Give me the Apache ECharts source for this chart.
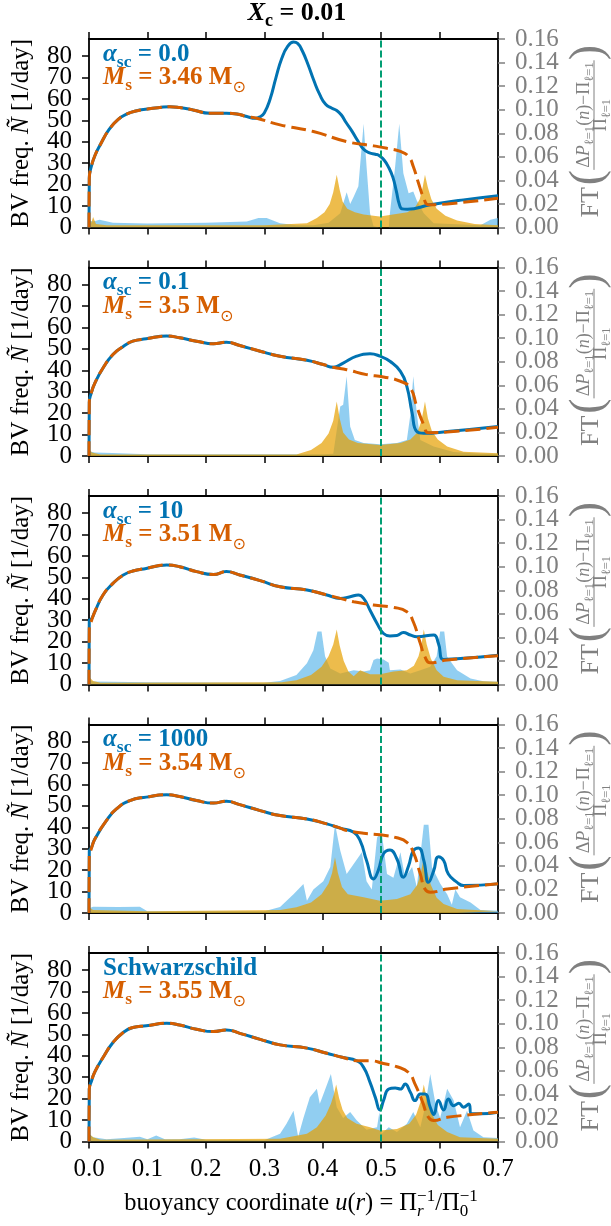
<!DOCTYPE html>
<html><head><meta charset="utf-8">
<script src="https://cdn.jsdelivr.net/npm/echarts@6/dist/echarts.min.js"></script>
<style>html,body{margin:0;padding:0;background:#fff}#c{width:611px;height:1226px}</style>
</head><body><div id="c"></div>
<script>
// ---------------- data ----------------
const xTicks = [0, 0.1, 0.2, 0.3, 0.4, 0.5, 0.6, 0.7];
const leftTicks = [0, 10, 20, 30, 40, 50, 60, 70, 80];
const leftLabelsA = [0, 20, 40, 60, 80];
const leftLabelsB = [10, 30, 50, 70];
const rightTicks = [0, 0.02, 0.04, 0.06, 0.08, 0.10, 0.12, 0.14, 0.16];
const rightLabelsA = [0, 0.04, 0.08, 0.12, 0.16];
const rightLabelsB = [0.02, 0.06, 0.10, 0.14];
const panelLabels = ['0.0', '0.1', '10', '1000', 'Schwarzschild'];
const panelMasses = ['3.46', '3.5', '3.51', '3.54', '3.55'];
const convBoundary = 0.5;

// BV frequency, blue solid (model)
const p1N = [[0,0],[0.0005,23],[0.004,28.5],[0.01,33.5],[0.02,39],[0.035,46],[0.05,50.5],[0.065,53],[0.08,54.4],[0.1,55.3],[0.121,56],[0.138,56.4],[0.155,56],[0.178,54.9],[0.207,53.3],[0.235,53.3],[0.253,53],[0.27,51.8],[0.285,51],[0.292,51.6],[0.3,53.5],[0.31,60],[0.32,70],[0.33,79],[0.34,84.5],[0.35,86.6],[0.357,86],[0.365,82.5],[0.375,76],[0.385,68.5],[0.395,62],[0.405,57.5],[0.415,55.8],[0.424,54.6],[0.432,52.5],[0.44,49],[0.45,45],[0.46,40.5],[0.47,36.5],[0.48,34.8],[0.49,34.2],[0.497,33.5],[0.505,31.5],[0.513,28],[0.52,23.5],[0.526,17],[0.531,11],[0.536,8.7],[0.545,8.5],[0.584,10.6],[0.641,12.9],[0.7,14.8]];
const p2N = [[0,0],[0.0005,25],[0.004,29.5],[0.01,34],[0.024,41.1],[0.041,47.4],[0.058,51],[0.075,53.6],[0.098,54.7],[0.133,56],[0.155,55.2],[0.184,53.6],[0.213,52.4],[0.235,53.1],[0.258,51.6],[0.293,48.9],[0.327,46.6],[0.373,44.7],[0.401,42.7],[0.418,41.4],[0.435,43.4],[0.458,46.6],[0.481,47.7],[0.498,46.6],[0.515,44.2],[0.533,39.5],[0.544,32.5],[0.553,20],[0.561,11.4],[0.573,10.6],[0.613,11.4],[0.7,13.8]];
const p3N = [[0,0],[0.0005,30],[0.004,30.5],[0.01,34],[0.024,41.8],[0.041,47.2],[0.058,51],[0.075,53],[0.098,54.2],[0.133,55.8],[0.155,55],[0.184,52.7],[0.213,51.4],[0.235,52.7],[0.258,51.1],[0.293,48.5],[0.327,45.6],[0.373,44.1],[0.407,41.8],[0.43,40.2],[0.447,41],[0.461,41.8],[0.47,40.2],[0.481,34.7],[0.493,28.5],[0.504,23.8],[0.515,22.7],[0.527,22.9],[0.538,24.3],[0.55,23.1],[0.561,22.3],[0.59,23.1],[0.598,19.2],[0.607,11.7],[0.641,12.2],[0.7,13.7]];
const p4N = [[0,0],[0.0005,29],[0.004,30.5],[0.01,34.5],[0.03,43.2],[0.047,48.6],[0.07,52.5],[0.098,54.1],[0.133,55.2],[0.155,54.4],[0.184,52.5],[0.213,51.3],[0.235,52.2],[0.258,50.6],[0.293,47.8],[0.327,45.5],[0.373,43.9],[0.407,41.6],[0.43,39.6],[0.453,37.7],[0.464,33.8],[0.475,24.5],[0.487,15.9],[0.495,19.8],[0.504,27.6],[0.515,29.4],[0.527,25.2],[0.538,16.7],[0.547,22.1],[0.555,29.1],[0.564,30.4],[0.573,24.5],[0.581,14.3],[0.59,19.8],[0.598,26.3],[0.607,24.5],[0.615,18.2],[0.63,14.3],[0.641,12.8],[0.7,13.6]];
const p5N = [[0,0],[0.0005,24.5],[0.004,28],[0.01,32.5],[0.024,39.2],[0.041,46.2],[0.058,50.8],[0.075,53.2],[0.098,54],[0.133,55.2],[0.155,54.4],[0.184,52.4],[0.213,51.3],[0.235,52.1],[0.258,50.5],[0.293,47.7],[0.327,45.1],[0.373,43.6],[0.407,41.2],[0.435,39.2],[0.458,37.7],[0.47,34.6],[0.481,27.6],[0.49,20.6],[0.498,14.7],[0.504,19.1],[0.513,24.5],[0.524,25],[0.533,24.5],[0.541,26.8],[0.55,23],[0.558,19.1],[0.567,22.2],[0.575,22.2],[0.584,16],[0.59,12.6],[0.598,19.1],[0.607,14.7],[0.615,19.8],[0.624,16.7],[0.633,17.8],[0.641,16],[0.65,17.5],[0.655,12.9],[0.67,12.9],[0.7,13.6]];

// BV frequency, orange dashed (reference)
const p1R = [[0,0],[0.0005,23],[0.004,28.5],[0.01,33.5],[0.02,39],[0.035,46],[0.05,50.5],[0.065,53],[0.08,54.4],[0.1,55.3],[0.121,56],[0.138,56.4],[0.155,56],[0.178,54.9],[0.207,53.3],[0.235,53.3],[0.253,53],[0.27,51.8],[0.287,51],[0.327,47.9],[0.384,44.8],[0.441,40.1],[0.487,38.1],[0.51,37],[0.533,35.5],[0.547,33.1],[0.555,28.5],[0.564,20.7],[0.573,13.7],[0.581,10.6],[0.613,11],[0.7,13.7]];
const p2R = [[0,0],[0.0005,25],[0.004,29.5],[0.01,34],[0.024,41.1],[0.041,47.4],[0.058,51],[0.075,53.6],[0.098,54.7],[0.133,56],[0.155,55.2],[0.184,53.6],[0.213,52.4],[0.235,53.1],[0.258,51.6],[0.293,48.9],[0.327,46.6],[0.373,44.7],[0.401,42.7],[0.418,41.4],[0.441,40.3],[0.475,38],[0.504,36.9],[0.533,34.9],[0.55,31.7],[0.561,23.1],[0.573,14.5],[0.581,10.9],[0.613,11.2],[0.7,13.4]];
const p3R = [[0,0],[0.0005,26],[0.004,29.5],[0.01,34],[0.024,41.8],[0.041,47.2],[0.058,51],[0.075,53],[0.098,54.2],[0.133,55.8],[0.155,55],[0.184,52.7],[0.213,51.4],[0.235,52.7],[0.258,51.1],[0.293,48.5],[0.327,45.6],[0.373,44.1],[0.407,41.8],[0.43,40.2],[0.453,38.6],[0.487,37.1],[0.521,36],[0.544,34],[0.555,29.3],[0.567,19.2],[0.575,12.9],[0.584,10.1],[0.613,11.4],[0.7,13.4]];
const p4R = [[0,0],[0.0005,27],[0.004,30],[0.01,34.5],[0.03,43.2],[0.047,48.6],[0.07,52.5],[0.098,54.1],[0.133,55.2],[0.155,54.4],[0.184,52.5],[0.213,51.3],[0.235,52.2],[0.258,50.6],[0.293,47.8],[0.327,45.5],[0.373,43.9],[0.407,41.6],[0.43,39.6],[0.441,38.5],[0.47,37.2],[0.498,36.5],[0.527,35.1],[0.544,33],[0.555,28.4],[0.567,18.2],[0.575,11.2],[0.584,9.7],[0.613,11.2],[0.7,13.6]];
const p5R = [[0,0],[0.0005,24.5],[0.004,28],[0.01,32.5],[0.024,39.2],[0.041,46.2],[0.058,50.8],[0.075,53.2],[0.098,54],[0.133,55.2],[0.155,54.4],[0.184,52.4],[0.213,51.3],[0.235,52.1],[0.258,50.5],[0.293,47.7],[0.327,45.1],[0.373,43.6],[0.407,41.2],[0.435,39.2],[0.458,37.7],[0.481,37.7],[0.504,36.4],[0.527,34.9],[0.547,32.2],[0.558,26.8],[0.57,19.1],[0.581,11.3],[0.59,9.8],[0.613,11.3],[0.7,13.6]];

// Fourier transform of period spacings, light blue (model)
const p1FTb = [[0,0.006],[0.007,0.005],[0.018,0.0065],[0.041,0.004],[0.1,0.0035],[0.2,0.004],[0.27,0.005],[0.29,0.008],[0.304,0.008],[0.327,0.0037],[0.355,0.002],[0.384,0.002],[0.41,0.004],[0.43,0.012],[0.441,0.03],[0.447,0.02],[0.453,0.026],[0.461,0.035],[0.47,0.088],[0.475,0.052],[0.481,0.012],[0.487,0.001],[0.498,0],[0.513,0],[0.515,0.012],[0.524,0.052],[0.531,0.088],[0.538,0.046],[0.547,0.029],[0.555,0.0305],[0.561,0.023],[0.573,0.012],[0.59,0.0037],[0.67,0.002],[0.687,0.0065],[0.7,0.008]];
const p2FTb = [[0,0.004],[0.01,0.003],[0.04,0.0025],[0.1,0.0015],[0.3,0.0015],[0.4,0.0015],[0.418,0.002],[0.43,0.042],[0.435,0.0435],[0.441,0.0676],[0.447,0.025],[0.455,0.0136],[0.47,0.011],[0.498,0.01],[0.527,0.011],[0.544,0.0136],[0.55,0.035],[0.555,0.0676],[0.561,0.036],[0.567,0.0136],[0.59,0.008],[0.624,0.0034],[0.67,0.002],[0.7,0.002]];
const p3FTb = [[0,0.004],[0.007,0.0025],[0.1,0.002],[0.3,0.0015],[0.327,0.003],[0.355,0.008],[0.373,0.018],[0.384,0.029],[0.391,0.045],[0.398,0.045],[0.404,0.024],[0.413,0.0136],[0.43,0.0093],[0.453,0.012],[0.47,0.011],[0.481,0.012],[0.487,0.0207],[0.493,0.022],[0.504,0.0212],[0.513,0.0184],[0.515,0.012],[0.533,0.0127],[0.55,0.0093],[0.567,0.012],[0.584,0.015],[0.595,0.024],[0.601,0.045],[0.608,0.045],[0.613,0.0235],[0.63,0.012],[0.653,0.005],[0.675,0.0028],[0.7,0.0023]];
const p4FTb = [[0,0.004],[0.007,0.0054],[0.05,0.005],[0.087,0.0054],[0.1,0.0014],[0.3,0.0014],[0.327,0.005],[0.35,0.016],[0.367,0.0246],[0.373,0.0105],[0.384,0.02],[0.401,0.027],[0.413,0.039],[0.421,0.0756],[0.43,0.053],[0.441,0.033],[0.453,0.0416],[0.467,0.0515],[0.475,0.027],[0.484,0.02],[0.493,0.064],[0.501,0.0685],[0.51,0.033],[0.521,0.03],[0.533,0.0515],[0.541,0.03],[0.553,0.039],[0.561,0.022],[0.573,0.075],[0.581,0.075],[0.587,0.039],[0.601,0.025],[0.613,0.016],[0.621,0.007],[0.627,0.02],[0.635,0.0133],[0.653,0.009],[0.67,0.0025],[0.7,0.002]];
const p5FTb = [[0,0.0065],[0.007,0.0037],[0.03,0.002],[0.06,0.003],[0.087,0.004],[0.1,0.002],[0.115,0.005],[0.13,0.002],[0.155,0.002],[0.18,0.0035],[0.2,0.0015],[0.3,0.001],[0.327,0.0065],[0.338,0.015],[0.35,0.026],[0.358,0.004],[0.367,0.02],[0.378,0.0376],[0.39,0.0447],[0.395,0.032],[0.401,0.04],[0.414,0.0574],[0.424,0.029],[0.435,0.02],[0.447,0.025],[0.458,0.018],[0.475,0.01],[0.493,0.012],[0.497,0.025],[0.501,0.0065],[0.513,0.012],[0.527,0.008],[0.544,0.015],[0.555,0.025],[0.567,0.012],[0.575,0.029],[0.584,0.0574],[0.593,0.032],[0.601,0.02],[0.613,0.0447],[0.624,0.035],[0.635,0.012],[0.647,0.026],[0.658,0.0093],[0.675,0.0037],[0.7,0.003]];

// Fourier transform of period spacings, yellow (reference)
const p1FTy = [[0,0.01],[0.004,0.004],[0.007,0.009],[0.012,0.003],[0.03,0.002],[0.3,0.002],[0.373,0.0037],[0.39,0.008],[0.403,0.013],[0.412,0.02],[0.418,0.03],[0.424,0.0447],[0.429,0.032],[0.434,0.022],[0.442,0.016],[0.455,0.013],[0.47,0.011],[0.487,0.0099],[0.498,0.0093],[0.52,0.011],[0.545,0.013],[0.558,0.017],[0.566,0.024],[0.571,0.034],[0.575,0.0447],[0.58,0.034],[0.586,0.024],[0.595,0.016],[0.61,0.01],[0.63,0.006],[0.66,0.003],[0.7,0.002]];
const p2FTy = [[0,0.006],[0.005,0.003],[0.02,0.0012],[0.355,0.0012],[0.38,0.005],[0.398,0.011],[0.41,0.019],[0.418,0.03],[0.424,0.0463],[0.429,0.032],[0.435,0.02],[0.445,0.014],[0.46,0.011],[0.498,0.0094],[0.533,0.011],[0.55,0.014],[0.562,0.02],[0.569,0.03],[0.575,0.0463],[0.58,0.032],[0.587,0.021],[0.597,0.014],[0.613,0.008],[0.641,0.0037],[0.7,0.0023]];
const p3FTy = [[0,0.0065],[0.007,0.003],[0.02,0.0015],[0.33,0.002],[0.355,0.0037],[0.38,0.008],[0.398,0.015],[0.41,0.024],[0.418,0.034],[0.424,0.0467],[0.429,0.033],[0.436,0.02],[0.444,0.011],[0.453,0.007],[0.464,0.012],[0.481,0.0088],[0.498,0.0088],[0.521,0.011],[0.544,0.012],[0.556,0.016],[0.564,0.024],[0.569,0.034],[0.573,0.0467],[0.578,0.034],[0.585,0.022],[0.595,0.012],[0.607,0.0065],[0.63,0.0037],[0.7,0.0023]];
const p4FTy = [[0,0.0048],[0.007,0.0025],[0.1,0.0015],[0.327,0.0025],[0.355,0.0048],[0.38,0.009],[0.398,0.016],[0.41,0.025],[0.416,0.034],[0.421,0.0473],[0.426,0.034],[0.433,0.022],[0.443,0.016],[0.47,0.0133],[0.498,0.0105],[0.527,0.0119],[0.55,0.016],[0.562,0.024],[0.568,0.034],[0.573,0.0473],[0.578,0.036],[0.585,0.024],[0.595,0.013],[0.607,0.0076],[0.63,0.0034],[0.7,0.0015]];
const p5FTy = [[0,0.0065],[0.007,0.0037],[0.02,0.0015],[0.327,0.0023],[0.373,0.0065],[0.39,0.012],[0.405,0.022],[0.414,0.032],[0.419,0.04],[0.423,0.0483],[0.428,0.037],[0.434,0.027],[0.442,0.02],[0.458,0.015],[0.481,0.012],[0.498,0.0093],[0.527,0.0107],[0.548,0.015],[0.56,0.023],[0.567,0.033],[0.573,0.0483],[0.578,0.037],[0.585,0.025],[0.597,0.014],[0.613,0.008],[0.635,0.0037],[0.7,0.0023]];

const modelN = [p1N, p2N, p3N, p4N, p5N];
const refN = [p1R, p2R, p3R, p4R, p5R];
const ftModel = [p1FTb, p2FTb, p3FTb, p4FTb, p5FTb];
const ftRef = [p1FTy, p2FTy, p3FTy, p4FTy, p5FTy];

// ---------------- layout / style ----------------
const SERIF = '"Liberation Serif", "DejaVu Serif", serif';
const GL = 89, GW = 409, GH = 188.5;
const TOPS = [39, 267.5, 496, 724.5, 953];
const BLUE = '#0173B2', ORANGE = '#D55E00', GREEN = '#029E73', GRAY = '#808080';
const TICKFS = 25;

const mctx = document.createElement('canvas').getContext('2d');
function fstr(p) {
  return (p.i ? 'italic ' : 'normal ') + (p.b ? 'bold ' : 'normal ') + p.size + 'px ' + (p.fam || SERIF);
}
function buildText(pieces, x, y, align, color) {
  let cur = 0, stackW = null; const items = [];
  for (const p of pieces) {
    const f = fstr(p); mctx.font = f; const w = mctx.measureText(p.t).width;
    items.push({ p, f, x: cur, w });
    if (p.stack) { stackW = w; } else { cur += (stackW !== null ? Math.max(w, stackW) : w); stackW = null; }
  }
  const off = align === 'center' ? -cur / 2 : 0;
  return {
    width: cur,
    els: items.map(it => ({
      type: 'text', silent: true,
      x: x + off + it.x, y: y + (it.p.dy || 0) - 0.34 * it.p.size,
      style: { text: it.p.t, font: it.f, fill: it.p.color || color, align: 'left', textAlign: 'left', verticalAlign: 'middle', textVerticalAlign: 'middle' }
    }))
  };
}
function measure(p) { mctx.font = fstr(p); return mctx.measureText(p.t).width; }

const grids = [], xAxes = [], yAxes = [], series = [], graphics = [];
for (let i = 0; i < 5; i++) {
  grids.push({ left: GL, width: GW, top: TOPS[i], height: GH, containLabel: false, outerBoundsMode: 'none' });
  const axLine = { show: true, onZero: false, lineStyle: { color: '#000', width: 1.8 } };
  const noLine = { show: false, onZero: false };
  const tickK = { show: true, length: 7, inside: false, lineStyle: { color: '#000', width: 1.5 } };
  const tickG = { show: true, length: 7, inside: false, lineStyle: { color: GRAY, width: 1.5 } };
  const lblBase = { showMinLabel: true, showMaxLabel: true, hideOverlap: false, fontFamily: SERIF, fontSize: TICKFS };
  xAxes.push({ type: 'value', gridIndex: i, position: 'bottom', min: 0, max: 0.7, interval: 0.1,
    axisLine: axLine, axisTick: tickK, splitLine: { show: false },
    axisLabel: Object.assign({ show: i === 4, formatter: v => v.toFixed(1), color: '#000', margin: 15 }, lblBase) });
  xAxes.push({ type: 'value', gridIndex: i, position: 'top', min: 0, max: 0.7, interval: 0.1,
    axisLine: axLine, axisTick: tickK, splitLine: { show: false }, axisLabel: { show: false } });
  // left (BV) axis: line, ticks and even labels
  yAxes.push({ type: 'value', gridIndex: i, position: 'left', min: 0, max: 88,
    axisLine: axLine, axisTick: Object.assign({ customValues: leftTicks }, tickK), splitLine: { show: false },
    axisLabel: Object.assign({ customValues: leftLabelsA, color: '#000', margin: 17 }, lblBase) });
  // right (FT) axis: line, ticks and labels 0, 0.04, ...
  yAxes.push({ type: 'value', gridIndex: i, position: 'right', min: 0, max: 0.16, interval: 0.02,
    axisLine: axLine, splitLine: { show: false }, axisTick: Object.assign({ customValues: rightTicks }, tickG),
    axisLabel: Object.assign({ customValues: rightLabelsA, formatter: v => v.toFixed(2), color: GRAY, margin: 17 }, lblBase) });
  // companion axes carrying the in-between labels
  yAxes.push({ type: 'value', gridIndex: i, position: 'left', min: 0, max: 88,
    axisLine: noLine, axisTick: { show: false }, splitLine: { show: false },
    axisLabel: Object.assign({ customValues: leftLabelsB, color: '#000', margin: 17 }, lblBase) });
  yAxes.push({ type: 'value', gridIndex: i, position: 'right', min: 0, max: 0.16, interval: 0.02,
    axisLine: noLine, axisTick: { show: false }, splitLine: { show: false },
    axisLabel: Object.assign({ customValues: rightLabelsB, formatter: v => v.toFixed(2), color: GRAY, margin: 17 }, lblBase) });

  const yN = 4 * i, yF = 4 * i + 1, xB = 2 * i;
  series.push({ type: 'line', xAxisIndex: xB, yAxisIndex: yF, data: ftModel[i], symbol: 'none', silent: true,
    lineStyle: { width: 0, opacity: 0 }, areaStyle: { color: '#56B4E9', opacity: 0.65 }, z: 2 });
  series.push({ type: 'line', xAxisIndex: xB, yAxisIndex: yF, data: ftRef[i], symbol: 'none', silent: true,
    lineStyle: { width: 0, opacity: 0 }, areaStyle: { color: '#E69F00', opacity: 0.7 }, z: 3 });
  series.push({ type: 'line', xAxisIndex: xB, yAxisIndex: yN, data: modelN[i], symbol: 'none', silent: true,
    smooth: 0.5, lineStyle: { color: BLUE, width: 3 }, z: 4 });
  series.push({ type: 'line', xAxisIndex: xB, yAxisIndex: yN, data: refN[i], symbol: 'none', silent: true,
    smooth: 0.5, lineStyle: { color: ORANGE, width: 3, type: [15, 6] }, z: 5,
    markLine: { silent: true, symbol: ['none', 'none'], label: { show: false },
      lineStyle: { color: GREEN, width: 2, type: [7, 3] }, data: [{ xAxis: convBoundary }] } });

  // in-panel legend texts
  const top = TOPS[i];
  const line1 = i < 4
    ? [{ t: 'α', size: 25, b: 1, i: 1 }, { t: 'sc', size: 17.5, b: 1, dy: 5 }, { t: ' = ' + panelLabels[i], size: 25, b: 1 }]
    : [{ t: panelLabels[i], size: 25, b: 1 }];
  graphics.push(...buildText(line1, 103, top + 24, 'left', BLUE).els);
  const line2 = [{ t: 'M', size: 25, b: 1, i: 1 }, { t: 's', size: 17.5, b: 1, dy: 5 },
    { t: ' = ' + panelMasses[i] + ' M', size: 25, b: 1 }, { t: '⊙', size: 16, dy: 7, fam: '"DejaVu Sans", sans-serif' }];
  graphics.push(...buildText(line2, 103, top + 47.5, 'left', ORANGE).els);

  // left axis name (rotated)
  const cy = top + GH / 2;
  const ln = buildText([{ t: 'BV freq. ', size: 25 }, { t: 'Ñ', size: 25, i: 1 }, { t: ' [1/day]', size: 25 }], 0, 0, 'center', '#000');
  graphics.push({ type: 'group', x: 30, y: cy, rotation: Math.PI / 2, children: ln.els });

  // right axis name (rotated) FT( frac )
  const ch = [];
  const pFT = { t: 'FT', size: 26 }, pL = { t: '(', size: 46 }, pR = { t: ')', size: 46 };
  const num = [{ t: 'Δ', size: 18 }, { t: 'P', size: 18, i: 1 }, { t: 'ℓ=1', size: 12.6, dy: 3 }, { t: '(', size: 18 }, { t: 'n', size: 18, i: 1 },
    { t: ')−Π', size: 18 }, { t: 'ℓ=1', size: 12.6, dy: 3 }];
  const den = [{ t: 'Π', size: 18 }, { t: 'ℓ=1', size: 12.6, dy: 3 }];
  const wNum = buildText(num, 0, 0, 'left', GRAY).width, wDen = buildText(den, 0, 0, 'left', GRAY).width;
  const wFT = measure(pFT), wL = measure(pL), wR = measure(pR), wBar = Math.max(wNum, wDen) + 4;
  const total = wFT + 2 + wL + wBar + wR;
  let xs = -total / 2;
  ch.push(...buildText([pFT], xs, 6.5, 'left', GRAY).els); xs += wFT + 2;
  ch.push(...buildText([pL], xs, 10.8, 'left', GRAY).els); xs += wL;
  const barC = xs + wBar / 2;
  ch.push(...buildText(num, barC, -3.5, 'center', GRAY).els);
  ch.push({ type: 'line', silent: true, shape: { x1: xs, y1: 0, x2: xs + wBar, y2: 0 }, style: { stroke: GRAY, lineWidth: 1 } });
  ch.push(...buildText(den, barC, 13.5, 'center', GRAY).els);
  xs += wBar;
  ch.push(...buildText([pR], xs, 10.8, 'left', GRAY).els);
  graphics.push({ type: 'group', x: 594, y: cy - 2, rotation: Math.PI / 2, children: ch });
}

// title
graphics.push(...buildText([{ t: 'X', size: 26, b: 1, i: 1 }, { t: 'c', size: 18, b: 1, dy: 5 }, { t: ' = 0.01', size: 26, b: 1 }], 297, 22, 'center', '#000').els);
// bottom axis name
graphics.push(...buildText([
  { t: 'buoyancy coordinate ', size: 24.5 }, { t: 'u', size: 24.5, i: 1 }, { t: '(', size: 24.5 }, { t: 'r', size: 24.5, i: 1 },
  { t: ') = Π', size: 24.5 }, { t: '−1', size: 17, dy: -10, stack: true }, { t: 'r', size: 17, i: 1, dy: 5 },
  { t: '/Π', size: 24.5 }, { t: '−1', size: 17, dy: -10, stack: true }, { t: '0', size: 17, dy: 5 }
], 301, 1212, 'center', '#000').els);

const chart = echarts.init(document.getElementById('c'), null, { renderer: 'canvas' });
chart.setOption({
  animation: false,
  backgroundColor: '#fff',
  grid: grids, xAxis: xAxes, yAxis: yAxes, series: series,
  graphic: { elements: graphics }
});
</script></body></html>
